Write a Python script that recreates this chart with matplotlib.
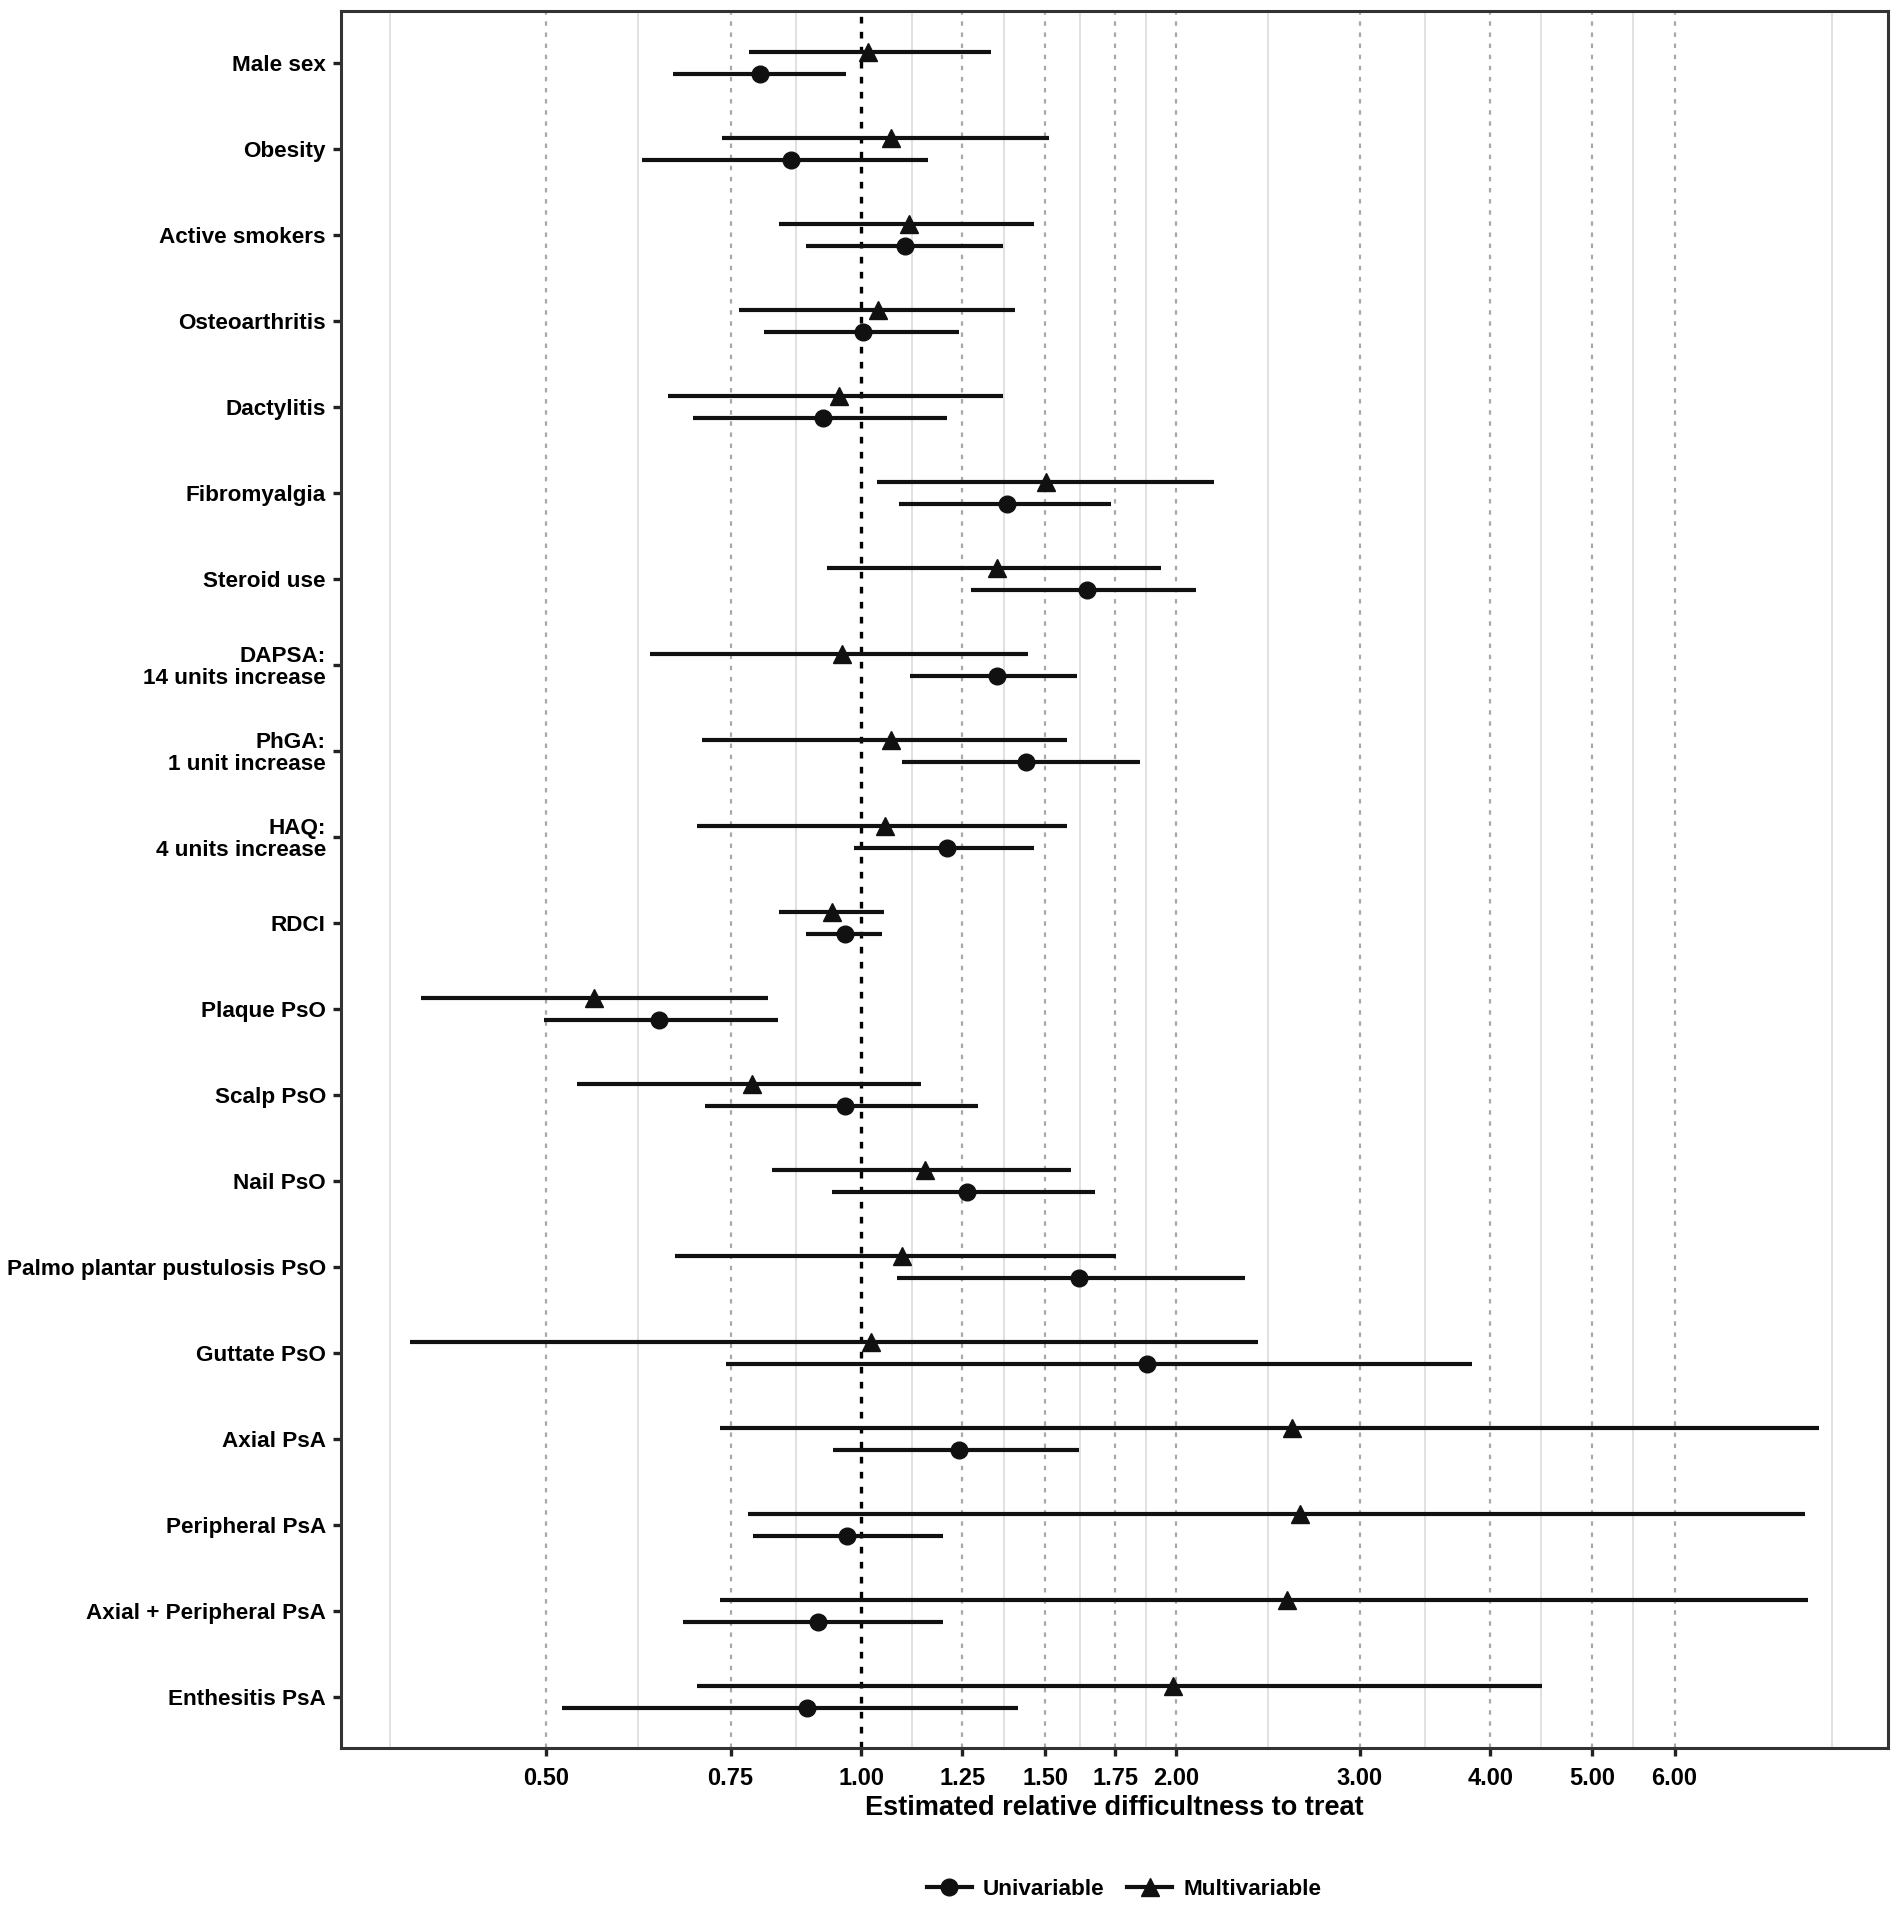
import numpy as np
import matplotlib.pyplot as plt
from matplotlib.lines import Line2D

plt.rcParams['font.family'] = ['Liberation Sans', 'DejaVu Sans']

labels = ["Male sex", "Obesity", "Active smokers", "Osteoarthritis", "Dactylitis",
          "Fibromyalgia", "Steroid use", "DAPSA:\n14 units increase",
          "PhGA:\n1 unit increase", "HAQ:\n4 units increase", "RDCI", "Plaque PsO",
          "Scalp PsO", "Nail PsO", "Palmo plantar pustulosis PsO", "Guttate PsO",
          "Axial PsA", "Peripheral PsA", "Axial + Peripheral PsA", "Enthesitis PsA"]

# univariable estimates with 95% CI
uni_est = [0.800, 0.856, 1.101, 1.003, 0.920, 1.380, 1.644, 1.348, 1.437, 1.207,
           0.966, 0.640, 0.966, 1.263, 1.617, 1.875, 1.240, 0.970, 0.910, 0.888]
uni_lo = [0.661, 0.617, 0.886, 0.807, 0.690, 1.087, 1.274, 1.113, 1.093, 0.984,
          0.886, 0.497, 0.709, 0.938, 1.081, 0.743, 0.939, 0.788, 0.676, 0.517]
uni_hi = [0.968, 1.159, 1.366, 1.240, 1.207, 1.735, 2.093, 1.609, 1.850, 1.464,
          1.047, 0.833, 1.294, 1.675, 2.331, 3.842, 1.617, 1.197, 1.197, 1.414]

# multivariable estimates with 95% CI
multi_est = [1.016, 1.067, 1.110, 1.038, 0.953, 1.504, 1.348, 0.958, 1.067, 1.055,
             0.938, 0.555, 0.787, 1.150, 1.093, 1.022, 2.582, 2.630, 2.554, 1.989]
multi_lo = [0.781, 0.736, 0.835, 0.764, 0.654, 1.035, 0.927, 0.628, 0.705, 0.696,
            0.835, 0.379, 0.535, 0.822, 0.663, 0.370, 0.732, 0.780, 0.733, 0.696]
multi_hi = [1.330, 1.513, 1.464, 1.403, 1.366, 2.174, 1.936, 1.445, 1.575, 1.575,
            1.052, 0.815, 1.141, 1.587, 1.753, 2.395, 8.250, 8.000, 8.050, 4.480]

x_breaks = [0.5, 0.75, 1.0, 1.25, 1.5, 1.75, 2.0, 3.0, 4.0, 5.0, 6.0]
x_minor = [0.354, 0.612, 0.866, 1.118, 1.369, 1.620, 1.871, 2.449, 3.464, 4.472, 5.477, 8.485]

fig = plt.figure(figsize=(19.02, 19.13), dpi=100)
ax = fig.add_axes([0.1793, 0.0860, 0.8133, 0.9082])

y = np.arange(len(labels))
dodge = 0.126
ink = '#111111'

for v in x_minor:
    ax.axvline(v, color='#dcdcdc', lw=1.2, zorder=0)
for v in x_breaks:
    if v == 1.0:
        continue
    ax.axvline(v, color='#a8a8a8', lw=1.6, ls=(0, (2, 3)), zorder=0)
ax.axvline(1.0, color='black', lw=2.4, ls=(0, (2, 2.5)), zorder=1)

ax.hlines(y - dodge, multi_lo, multi_hi, color=ink, lw=3.0, zorder=2)
ax.plot(multi_est, y - dodge, ls='none', marker='^', ms=12.5, color=ink, zorder=3)
ax.hlines(y + dodge, uni_lo, uni_hi, color=ink, lw=3.0, zorder=2)
ax.plot(uni_est, y + dodge, ls='none', marker='o', ms=12, color=ink, zorder=3)

ax.set_xscale('log')
ax.set_xlim(0.318, 9.6)
ax.set_xticks(x_breaks)
ax.set_xticklabels([f"{v:.2f}" for v in x_breaks])
ax.xaxis.set_minor_locator(plt.NullLocator())
ax.set_ylim(len(labels) - 0.4, -0.6)
ax.set_yticks(y)
ax.set_yticklabels(labels, linespacing=1.05)

ax.tick_params(axis='both', length=6, width=2.4, color='#222222',
               labelcolor='black', pad=5)
ax.tick_params(axis='y', labelsize=16.2)
ax.tick_params(axis='x', labelsize=17, pad=7)
for lab in ax.get_xticklabels() + ax.get_yticklabels():
    lab.set_fontweight('bold')
for sp in ax.spines.values():
    sp.set_linewidth(2.2)
    sp.set_color('#333333')

ax.set_xlabel("Estimated relative difficultness to treat", fontsize=19.5,
              fontweight='bold', labelpad=4)

handles = [Line2D([], [], color=ink, lw=3.0, marker='o', ms=12),
           Line2D([], [], color=ink, lw=3.0, marker='^', ms=12.5)]
fig.legend(handles, ["Univariable", "Multivariable"], loc='center',
           bbox_to_anchor=(0.591, 0.0125), ncol=2, frameon=False,
           prop={'size': 16.2, 'weight': 'bold'}, handlelength=2.0,
           handletextpad=0.5, columnspacing=1.0)

fig.savefig('out.png', dpi=100)
